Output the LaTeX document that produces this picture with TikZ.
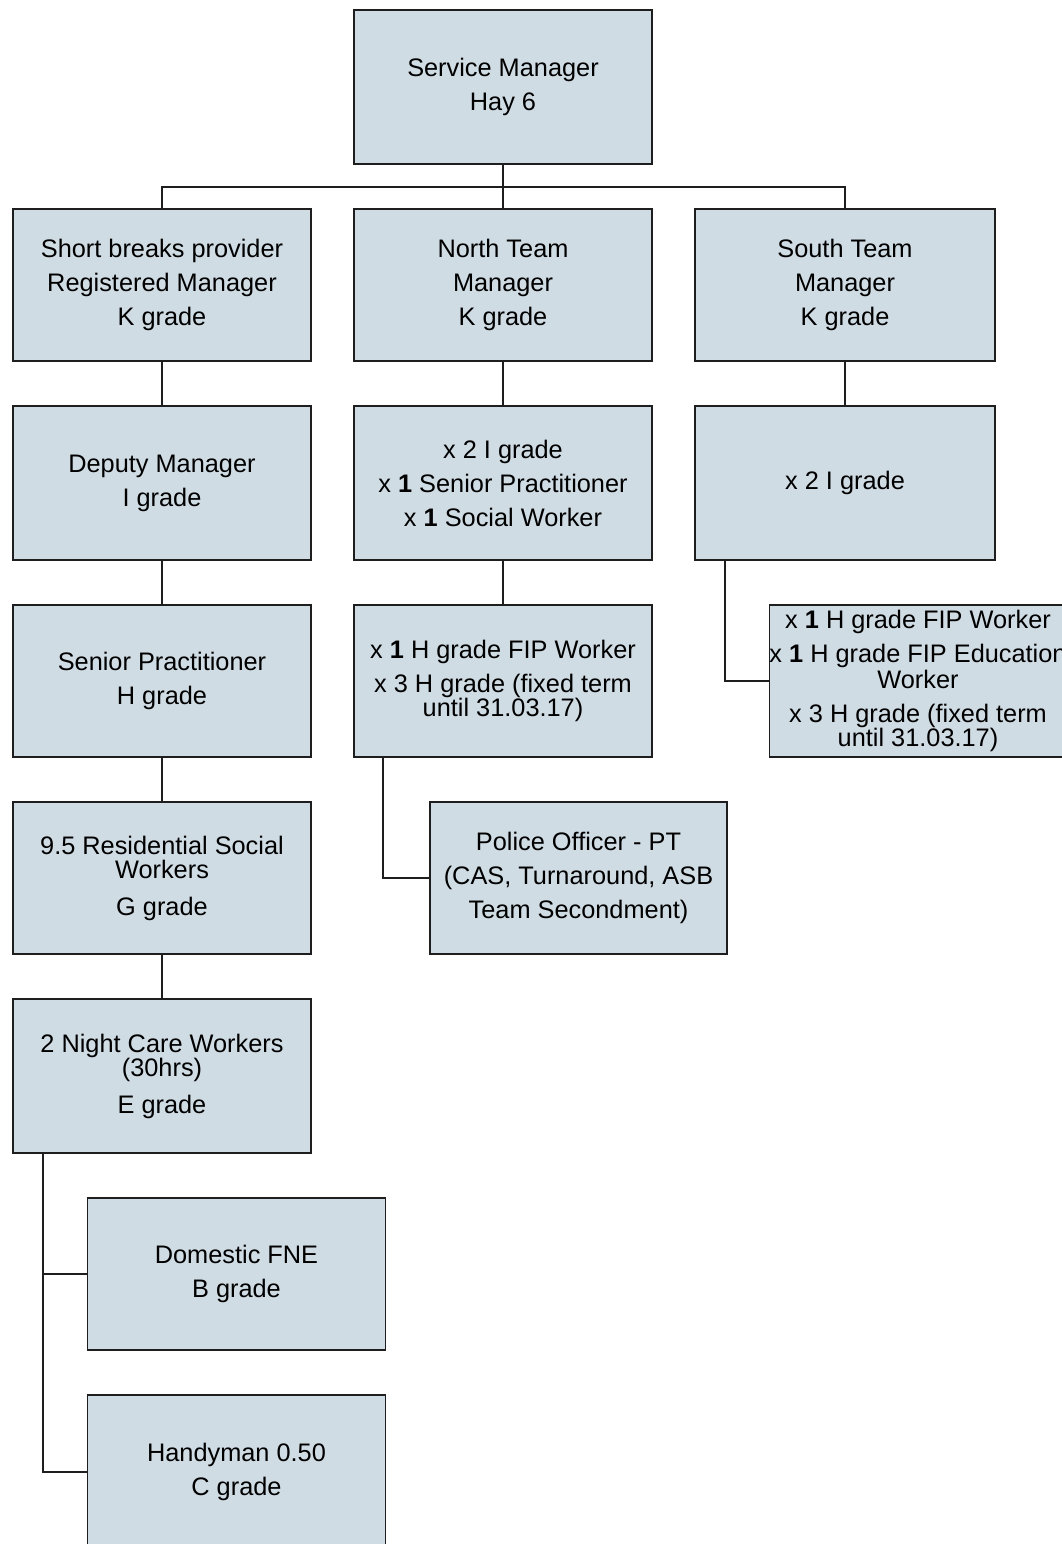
\documentclass[tikz,border=0pt]{standalone}
\usepackage{fontspec}
\setmainfont{Liberation Sans}
\usepackage{tikz}
\usetikzlibrary{positioning}

\definecolor{boxfill}{RGB}{208,220,228}
\definecolor{boxline}{RGB}{30,30,30}

\tikzset{
  orgbox/.style={draw=boxline, line width=1.3pt, fill=boxfill, rectangle, inner sep=0pt,
    minimum width=223.5pt, minimum height=114pt, align=center,
    font=\fontsize{19}{25.5}\selectfont},
  orgline/.style={draw=boxline, line width=1.3pt}
}

\begin{document}
\begin{tikzpicture}[x=0.75pt,y=0.75pt,yscale=-1,xscale=1]
\useasboundingbox (0,0) rectangle (1062,1544);
\clip (0,0) rectangle (1062,1544);

% Top
\node [orgbox, minimum height=115.5pt] (sm) at (503,87) {Service Manager\\Hay 6};

% Managers
\node [orgbox] (sbp) at (162,285) {Short breaks provider\\Registered Manager\\K grade};
\node [orgbox] (ntm) at (503,285) {North Team\\Manager\\K grade};
\node [orgbox, minimum width=225pt] (stm) at (845,285) {South Team\\Manager\\K grade};

% Third row
\node [orgbox, minimum height=115.5pt] (dep) at (162,483) {Deputy Manager\\I grade};
\node [orgbox, minimum height=115.5pt] (nig) at (503,483) {x 2 I grade\\x \textbf{1} Senior Practitioner\\x \textbf{1} Social Worker};
\node [orgbox, minimum width=225pt, minimum height=115.5pt] (sig) at (845,483) {x 2 I grade};

% Fourth row
\node [orgbox] (sp) at (162,681) {Senior Practitioner\\H grade};
\node [orgbox] (nfip) at (503,681) {x \textbf{1} H grade FIP Worker\\x 3 H grade (fixed term\\[-7.5pt]until 31.03.17)};
\node [orgbox, minimum width=220.5pt] (sfip) at (918,681) {x \textbf{1} H grade FIP Worker\\x \textbf{1} H grade FIP Education\\[-6pt]Worker\\x 3 H grade (fixed term\\[-7.5pt]until 31.03.17)};

% Fifth row
\node [orgbox] (rsw) at (162,878) {9.5 Residential Social\\[-7.5pt]Workers\\[2.25pt]G grade};
\node [orgbox, minimum width=222.75pt] (pol) at (578.5,878) {Police Officer - PT\\(CAS, Turnaround, ASB\\Team Secondment)};

% Night care and below
\node [orgbox, minimum height=115.5pt] (ncw) at (162,1076) {2 Night Care Workers\\[-7.5pt](30hrs)\\[2.25pt]E grade};
\node [orgbox] (dom) at (236.5,1274) {Domestic FNE\\B grade};
\node [orgbox, minimum height=115.5pt] (handy) at (236.5,1472) {Handyman 0.50\\C grade};

% Connectors
\coordinate (bus) at (503,187);
\draw [orgline] (sm.south) -- (bus);
\draw [orgline] (sbp.north) |- (bus) -| (stm.north);
\draw [orgline] (bus) -- (ntm.north);

\draw [orgline] (sbp.south) -- (dep.north);
\draw [orgline] (dep.south) -- (sp.north);
\draw [orgline] (sp.south) -- (rsw.north);
\draw [orgline] (rsw.south) -- (ncw.north);

\draw [orgline] (ntm.south) -- (nig.north);
\draw [orgline] (nig.south) -- (nfip.north);
\draw [orgline] (stm.south) -- (sig.north);

\draw [orgline] ([xshift=23.25pt]sig.south west) |- (sfip.west);
\draw [orgline] ([xshift=22.5pt]nfip.south west) |- (pol.west);
\draw [orgline] ([xshift=23.25pt]ncw.south west) |- (dom.west);
\draw [orgline] ([xshift=23.25pt]ncw.south west) |- (handy.west);

\end{tikzpicture}
\end{document}
